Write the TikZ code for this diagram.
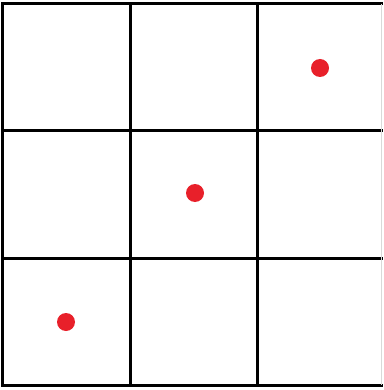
\documentclass[tikz,border=0pt]{standalone}
\definecolor{dotred}{HTML}{E8202A}
\tikzset{gridline/.style={line width=3pt,black},
  reddot/.style={circle,fill=dotred,inner sep=0pt,minimum size=18pt}}
\begin{document}
\begin{tikzpicture}[x=1pt,y=-1pt]
\useasboundingbox (0,0) rectangle (383,390);
\foreach \x in {2.5,130,257}{\draw[gridline] (\x,2.5) -- (\x,386.5);}
\foreach \y in {4,131,258,385}{\draw[gridline] (1,\y) -- (383,\y);}
\draw[line width=1pt,black!15] (381.5,4) -- (381.5,385);
\node[reddot] (d1) at (320,68) {};
\node[reddot] (d2) at (195,193) {};
\node[reddot] (d3) at (66,322) {};
\end{tikzpicture}
\end{document}
